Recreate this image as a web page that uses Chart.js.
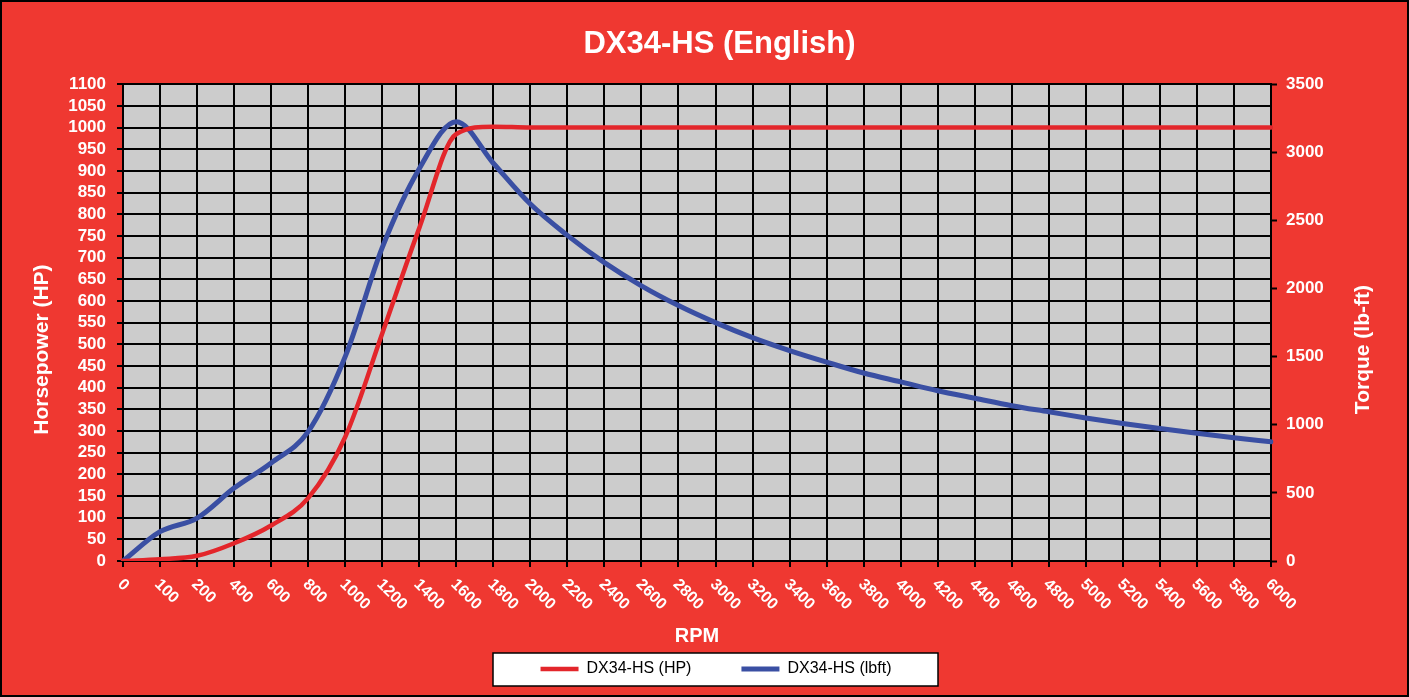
<!DOCTYPE html>
<html>
<head>
<meta charset="utf-8">
<script src="https://cdn.jsdelivr.net/npm/chart.js@4.4.1/dist/chart.umd.min.js"></script>
<style>
  html, body { margin: 0; padding: 0; background: #EF3831; }
  #wrap { width: 1409px; height: 697px; }
</style>
</head>
<body>
<div id="wrap"><canvas id="c" width="1409" height="697"></canvas></div>
<script>
// ---- data ----
const rpmLabels = ['0','100','200','400','600','800','1000','1200','1400','1600','1800','2000','2200','2400','2600','2800','3000','3200','3400','3600','3800','4000','4200','4400','4600','4800','5000','5200','5400','5600','5800','6000'];
const hpValues = [0,4,12,41,82,145,286,525,768,985,1002,1000,1000,1000,1000,1000,1000,1000,1000,1000,1000,1000,1000,1000,1000,1000,1000,1000,1000,1000,1000,1000];
const torqueValues = [0,215,315,535,720,950,1500,2300,2880,3225,2920,2620,2390,2190,2020,1875,1750,1640,1545,1460,1380,1315,1250,1195,1140,1095,1050,1010,973,938,905,875];
const seriesNames = ['DX34-HS (HP)', 'DX34-HS (lbft)'];
const chartTitle = 'DX34-HS (English)';
const xTitle = 'RPM';
const yTitle = 'Horsepower (HP)';
const y1Title = 'Torque (lb-ft)';

// ---- styles ----
const FONT = "'Liberation Sans', Arial, Helvetica, sans-serif";
const BG = '#EF3831';
const PLOT_BG = '#CCCCCC';
const WHITE = '#FFFFFF';
const RED = '#E3262B';
const BLUE = '#3A4FA3';

Chart.defaults.font.family = FONT;

const decorPlugin = {
  id: 'decor',
  afterLayout(chart) {
    const lg = chart.legend;
    if (lg) { lg.left += 11.5; lg.right += 11.5; }
    const tb = chart.titleBlock;
    if (tb) { tb.left += 15; tb.right += 15; }
  },
  beforeDraw(chart) {
    const {ctx, chartArea: a, legend} = chart;
    ctx.save();
    ctx.fillStyle = BG;
    ctx.fillRect(0, 0, chart.width, chart.height);
    ctx.fillStyle = PLOT_BG;
    ctx.fillRect(a.left, a.top, a.right - a.left, a.bottom - a.top);
    if (legend && legend.legendHitBoxes) {
      const lp = legend.options.labels.padding;
      const widths = legend.legendHitBoxes.map(h => h.width);
      const itemsW = widths.reduce((s, w) => s + w, 0) + lp * (widths.length - 1);
      const cx = (legend.left + legend.right) / 2;
      const cy = legend.top + lp + 8;
      const bx = Math.round(cx - itemsW / 2 - 48);
      const bw = Math.round(itemsW + 94);
      ctx.fillStyle = '#FFFFFF';
      ctx.fillRect(bx, Math.round(cy - 16.5), bw, 33);
      ctx.strokeStyle = '#000000';
      ctx.lineWidth = 1.5;
      ctx.strokeRect(bx, Math.round(cy - 16.5), bw, 33);
    }
    ctx.restore();
  },
  afterDraw(chart) {
    const {ctx} = chart;
    const x = chart.scales.x;
    const y = chart.scales.y;
    const y1 = chart.scales.y1;
    const midY = (y.top + y.bottom) / 2 + 27;
    ctx.save();
    ctx.fillStyle = WHITE;
    ctx.font = 'bold 16px ' + FONT;
    ctx.textAlign = 'left';
    ctx.textBaseline = 'alphabetic';
    rpmLabels.forEach((lab, i) => {
      const px = x.getPixelForTick(i);
      ctx.save();
      ctx.translate(px - 6, x.top + 24);
      ctx.rotate(Math.PI / 4);
      ctx.fillText(lab, 0, 0);
      ctx.restore();
    });
    // axis titles, reading bottom-to-top
    ctx.font = 'bold 21px ' + FONT;
    ctx.textAlign = 'center';
    ctx.textBaseline = 'middle';
    ctx.save();
    ctx.translate(y.left + 42, midY);
    ctx.rotate(-Math.PI / 2);
    ctx.fillText(yTitle, 0, 0);
    ctx.restore();
    ctx.save();
    ctx.translate(y1.right - 46, midY);
    ctx.rotate(-Math.PI / 2);
    ctx.fillText(y1Title, 0, 0);
    ctx.restore();
    ctx.strokeStyle = '#000000';
    ctx.lineWidth = 2;
    ctx.strokeRect(1, 1, chart.width - 2, chart.height - 2);
    ctx.restore();
  }
};

const plainTick = v => String(v);

new Chart(document.getElementById('c'), {
  type: 'line',
  data: {
    labels: rpmLabels,
    datasets: [
      { label: seriesNames[0], data: hpValues, yAxisID: 'y', borderColor: RED, backgroundColor: RED,
        borderWidth: 4.5, pointRadius: 0, cubicInterpolationMode: 'monotone', borderCapStyle: 'round', fill: false },
      { label: seriesNames[1], data: torqueValues, yAxisID: 'y1', borderColor: BLUE, backgroundColor: BLUE,
        borderWidth: 5, pointRadius: 0, cubicInterpolationMode: 'monotone', borderCapStyle: 'round', fill: false }
    ]
  },
  options: {
    responsive: false,
    animation: false,
    devicePixelRatio: 1,
    layout: { padding: { left: 0, right: 0, top: 0, bottom: 10 } },
    plugins: {
      title: { display: true, text: chartTitle, color: WHITE,
        font: { size: 31, weight: 'bold', lineHeight: 1.2 }, padding: { top: 26, bottom: 21 } },
      legend: { display: true, position: 'bottom',
        labels: { usePointStyle: true, pointStyle: 'line', pointStyleWidth: 38, color: '#000000',
          font: { size: 16 }, padding: 50 } },
      tooltip: { enabled: false }
    },
    scales: {
      x: {
        type: 'category', offset: false,
        grid: { color: '#000000', lineWidth: 2, drawTicks: true, tickLength: 6, tickColor: '#000000', tickWidth: 2, offset: false },
        border: { display: true, color: '#000000', width: 2 },
        ticks: { display: false, autoSkip: false },
        title: { display: true, text: xTitle, color: WHITE, font: { size: 20, weight: 'bold', lineHeight: 1.2 },
          padding: { top: 0, bottom: -37 } },
        afterFit: s => { s.height = 50; }
      },
      y: {
        position: 'left', min: 0, max: 1100,
        ticks: { stepSize: 50, color: WHITE, font: { size: 17, weight: 'bold' }, padding: 11, autoSkip: false, callback: plainTick },
        grid: { color: '#000000', lineWidth: 2, tickLength: 6, tickColor: '#000000', tickWidth: 2 },
        border: { display: true, color: '#000000', width: 2 },
        title: { display: false, text: yTitle },
        afterFit: s => { s.width = 123; }
      },
      y1: {
        position: 'right', min: 0, max: 3500,
        ticks: { stepSize: 500, color: WHITE, font: { size: 17, weight: 'bold' }, padding: 9, autoSkip: false, callback: plainTick },
        grid: { drawOnChartArea: false, tickLength: 6, tickColor: '#000000', tickWidth: 2, color: '#000000' },
        border: { display: true, color: '#000000', width: 2 },
        title: { display: false, text: y1Title },
        afterFit: s => { s.width = 138; }
      }
    }
  },
  plugins: [decorPlugin]
});
</script>
</body>
</html>
